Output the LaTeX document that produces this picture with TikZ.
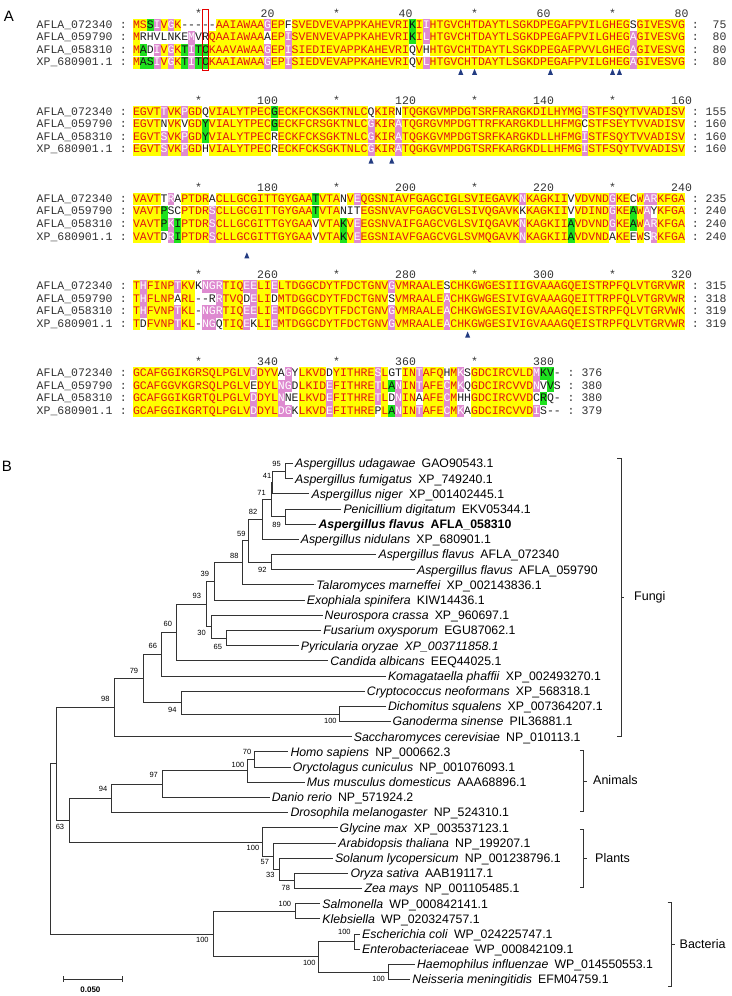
\documentclass[tikz,border=0pt]{standalone}
\usepackage{fontspec}
\setmainfont{Liberation Sans}
\newfontfamily\monof{Liberation Mono}
\definecolor{bgY}{RGB}{255,255,0}
\definecolor{fgY}{RGB}{225,20,20}
\definecolor{bgP}{RGB}{222,138,208}
\definecolor{fgP}{RGB}{255,255,255}
\definecolor{bgG}{RGB}{30,225,30}
\definecolor{fgG}{RGB}{20,20,20}
\definecolor{bgW}{RGB}{255,255,255}
\definecolor{fgW}{RGB}{30,30,30}
\definecolor{triblue}{RGB}{35,60,130}
\definecolor{txtgray}{RGB}{50,50,50}
\newlength\rw \setlength\rw{6.9pt}
\newcommand\rb[2]{{\fboxsep=0pt\colorbox{bg#1}{\makebox[\rw][c]{\rule[-3pt]{0pt}{12.3pt}\textcolor{fg#1}{#2}}}}}
\makeatletter
\def\seqrow#1#2{\hbox{\rp@#1\relax#2\relax}}
\def\rp@#1#2\relax#3#4\relax{\rb{#3}{#1}\ifx\relax#2\relax\expandafter\@gobble\else\expandafter\@firstofone\fi{\rp@#2\relax#4\relax}}
\makeatother
\newcommand\gap{\hspace{0.5em}}
\tikzset{
  nm/.style={inner sep=0pt,outer sep=0pt,text=txtgray,font=\monof\fontsize{11.5}{12}\selectfont},
  sq/.style={inner sep=0pt,outer sep=0pt,font=\monof\fontsize{11.5}{12}\selectfont},
  br/.style={draw=black!80,line width=0.75pt},
  leaf/.style={anchor=base west,inner sep=0pt,outer sep=0pt,font=\fontsize{12.3}{14}\selectfont},
  bs/.style={inner sep=0pt,font=\fontsize{7.5}{8}\selectfont},
  grp/.style={anchor=west,inner sep=0pt,font=\fontsize{12.5}{14}\selectfont},
  brk/.style={draw=black!80,line width=0.75pt},
  panel/.style={inner sep=0pt,font=\fontsize{15}{15}\selectfont},
}
\newcommand\alrow[7]{%
  \node[nm,anchor=base west] (#1n) at (36.7,#2+3.2) {#3};
  \node[nm,anchor=base] (#1c) at (123.3,#2+3.2) {:};
  \node[sq,anchor=base west] (#1s) at (133,#2+3.2) {\seqrow{#4}{#5}};
  \node[nm,anchor=base] (#1d) at ({133+(#6+1.5)*6.9},#2+3.2) {:};
  \node[nm,anchor=base east] (#1e) at ({133+(#6+6)*6.9},#2+3.2) {#7};
}
\newcommand\ruler[4]{%
  \foreach \c in {10,30,...,#4} {\node[nm,anchor=base] (#1s\c) at ({133+(\c-0.5)*6.9},#2+3.8) {*};}
  \foreach \c in {20,40,...,#4} {\pgfmathtruncatemacro\v{#3+\c}\node[nm,anchor=base] (#1n\c) at ({133+(\c-0.5)*6.9},#2+3.8) {\v};}
}
\newcommand\tri[2]{\fill[triblue] ({133+(#1-0.5)*6.9-2.5},#2+2.8) -- ({133+(#1-0.5)*6.9+2.5},#2+2.8) -- ({133+(#1-0.5)*6.9},#2-3.2) -- cycle;}
\newcommand\leaf[4]{\coordinate (#1) at (#2-2.2,#3); \node[leaf] (#1t) at (#2,#3+4.4) {#4};}
\begin{document}
\begin{tikzpicture}[x=1pt,y=-1pt]
\useasboundingbox (0,0) rectangle (731,996);
\node[panel] (labA) at (9,16.5) {A};
\node[panel] (labB) at (7,466) {B};
% ---------- block 1
\ruler{ra}{13.3}{0}{80}
\alrow{a1}{25}{AFLA\_072340}{MSSIVGK--- --AAIAWAAG EPFSVEDVEV APPKAHEVRI KIIHTGVCHT DAYTLSGKDP EGAFPVILGH EGSGIVESVG}{YYGPYPYWWW WWYYYYYYYP YYWYYYYYYY YYYYYYYYYY GYPYYYYYYY YYYYYYYYYY YYYYYYYYYY YYWYYYYYYY}{80}{75}
\alrow{a2}{37.55}{AFLA\_059790}{MRHVLNKEMV RQAAIAWAAA EPISVENVEV APPKAHEVRI KILHTGVCHT DAYTLSGKDP EGAFPVILGH EGAGIVESVG}{YWWWWWWWPW WYYYYYYYYW YYPYYYYYYY YYYYYYYYYY GYPYYYYYYY YYYYYYYYYY YYYYYYYYYY YYPYYYYYYY}{80}{80}
\alrow{a3}{50.1}{AFLA\_058310}{MADIVGKTIT CKAAVAWAAG EPISIEDIEV APPKAHEVRI QVHHTGVCHT DAYTLSGKDP EGAFPVVLGH EGAGIVESVG}{YGWPYPYGPG GYYYYYYYYP YYPYYYYYYY YYYYYYYYYY WYWYYYYYYY YYYYYYYYYY YYYYYYYYYY YYPYYYYYYY}{80}{80}
\alrow{a4}{62.65}{XP\_680901.1}{MASIVGKTIT CKAAIAWAAG EPISIEDVEV APPKAHEVRI QVLHTGVCHT DAYTLSGKDP EGAFPVILGH EGAGIVESVG}{YGGPYPYGPG GYYYYYYYYP YYPYYYYYYY YYYYYYYYYY WYPYYYYYYY YYYYYYYYYY YYYYYYYYYY YYPYYYYYYY}{80}{80}
\node[draw=red!90!black,line width=0.9pt,minimum width=6.9pt,minimum height=61.5pt,inner sep=0pt,outer sep=0pt] (redbox) at (205.45,39.8) {};
\tri{48}{72}\tri{50}{72}\tri{61}{72}\tri{70}{72}\tri{71}{72}
% ---------- block 2
\ruler{rb}{100.4}{80}{80}
\alrow{b1}{112.1}{AFLA\_072340}{EGVTTVKPGD QVIALYTPEC GECKFCKSGK TNLCQKIRNT QGKGVMPDGT SRFRARGKDI LHYMGISTFS QYTVVADISV}{YYYYPYYPYY WYYYYYYYYY GYYYYYYYYY YYYYWYYYWY YYYYYYYYYY YYYYYYYYYY YYYYYPYYYY YYYYYYYYYY}{80}{155}
\alrow{b2}{124.65}{AFLA\_059790}{EGVTNVKVGD YVIALYTPEC GECKFCRSGK TNLCGKIRAT QGRGVMPDGT TRFKARGKDL LHFMGCSTFS EYTVVADISV}{YYYYWYYWYY GYYYYYYYYY GYYYYYYYYY YYYYPYYYPY YYYYYYYYYY YYYYYYYYYY YYYYYWYYYY YYYYYYYYYY}{80}{160}
\alrow{b3}{137.2}{AFLA\_058310}{EGVTSVKPGD YVIALYTPEC RECKFCKSGK TNLCGKIRAT QGKGVMPDGT SRFKARGKDL LHFMGISTFS QYTVVADISV}{YYYYPYYPYY GYYYYYYYYY WYYYYYYYYY YYYYPYYYPY YYYYYYYYYY YYYYYYYYYY YYYYYPYYYY YYYYYYYYYY}{80}{160}
\alrow{b4}{149.75}{XP\_680901.1}{EGVTSVKPGD HVIALYTPEC RECKFCKSGK TNLCGKIRAT QGKGVMPDGT SRFKARGKDL LHFMGISTFS QYTVVADISV}{YYYYPYYPYY WYYYYYYYYY WYYYYYYYYY YYYYPYYYPY YYYYYYYYYY YYYYYYYYYY YYYYYPYYYY YYYYYYYYYY}{80}{160}
\tri{35}{160.7}\tri{38}{160.7}
% ---------- block 3
\ruler{rc}{187.5}{160}{80}
\alrow{c1}{199.2}{AFLA\_072340}{VAVTTRAPTD RACLLGCGIT TGYGAATVTA NVEQGSNIAV FGAGCIGLSV IEGAVKNKAG KIIVVDVNDG KECWARKFGA}{YYYYWPWYYY YWYYYYYYYY YYYYYYGYYY WYPYYYYYYY YYYYYYYYYY YYYYYYPYYY YYYWYYYYYP YYWYPPYYYY}{80}{235}
\alrow{c2}{211.75}{AFLA\_059790}{VAVTPSCPTD RSCLLGCGIT TGYGAATVTA NITEGSNVAV FGAGCVGLSI VQGAVKKKAG KIIVVDINDG KEAWAYKFGA}{YYYYGWWYYY YPYYYYYYYY YYYYYYGYYY WWWYYYYYYY YYYYYYYYYY YYYYYYWYYY YYYWYYYYYP YYGYPWYYYY}{80}{240}
\alrow{c3}{224.3}{AFLA\_058310}{VAVTPKIPTD RSCLLGCGIT TGYGAAVVTA KVEEGSNVAI FGAGCVGLSV IQGAVKNKAG KIIAVDVNDG KEAWARKFGA}{YYYYGPGYYY YPYYYYYYYY YYYYYYWYYY GYPYYYYYYY YYYYYYYYYY YYYYYYPYYY YYYGYYYYYP YYGYPPYYYY}{80}{240}
\alrow{c4}{236.85}{XP\_680901.1}{VAVTDRIPTD RSCLLGCGIT TGYGAAVVTA KVEEGSNIAV FGAGCVGLSV MQGAVKNKAG KIIAVDVNDA KEEWSRKFGA}{YYYYWPGYYY YPYYYYYYYY YYYYYYWYYY GYPYYYYYYY YYYYYYYYYY YYYYYYPYYY YYYGYYYYYW YYWYWPYYYY}{80}{240}
\tri{17}{255.5}
% ---------- block 4
\ruler{rd}{274.6}{240}{80}
\alrow{d1}{286.3}{AFLA\_072340}{THFINPTKVK NGRTIQEELI ELTDGGCDYT FDCTGNVGVM RAALESCHKG WGESIIIGVA AAGQEISTRP FQLVTGRVWR}{YPYYYYPYYW PPPYYYPPYY PYYYYYYYYY YYYYYYYPYY YYYYYWYYYY YYYYYYYYYY YYYYYYYYYY YYYYYYYYYY}{80}{315}
\alrow{d2}{298.85}{AFLA\_059790}{THFLNPARL- -RRTVQDELI DMTDGGCDYT FDCTGNVSVM RAALEACHKG WGESIVIGVA AAGQEITTRP FQLVTGRVWR}{YPYYYYWYYW WWPYYYWPYY WYYYYYYYYY YYYYYYYWYY YYYYYPYYYY YYYYYYYYYY YYYYYYYYYY YYYYYYYYYY}{80}{318}
\alrow{d3}{311.4}{AFLA\_058310}{THFVNPTKL- NGRTIQEELI EMTDGGCDYT FDCTGNVGVM RAALEACHKG WGESIVIGVA AAGQEISTRP FQLVTGRVWK}{YPYYYYPYYW PPPYYYPPYY PYYYYYYYYY YYYYYYYPYY YYYYYPYYYY YYYYYYYYYY YYYYYYYYYY YYYYYYYYYY}{80}{319}
\alrow{d4}{323.95}{XP\_680901.1}{TDFVNPTKL- NGQTIQEKLI EMTDGGCDYT FDCTGNVGVM RAALEACHKG WGESIVIGVA AAGQEISTRP FQLVTGRVWR}{YWYYYYPYYW PPWYYYPWYY PYYYYYYYYY YYYYYYYPYY YYYYYPYYYY YYYYYYYYYY YYYYYYYYYY YYYYYYYYYY}{80}{319}
\tri{49}{334.7}
% ---------- block 5
\ruler{re}{361.7}{320}{62}
\alrow{e1}{373.4}{AFLA\_072340}{GCAFGGIKGR SQLPGLVDDY VAGYLKVDDY ITHRESLGTI NTAFQHMKSG DCIRCVLDMK V-}{YYYYYYYYYY YYYYYYYPYY YWPWYYYYWY YYYYYPYWWY YPYYYWYPWY YYYYYYYYPG GW}{62}{376}
\alrow{e2}{385.95}{AFLA\_059790}{GCAFGGVKGR SQLPGLVEDY LNGDLKIDEF ITHRETLANI NTAFECMKQG DCIRCVVDNV VS}{YYYYYYYYYY YYYYYYYWYY YPPWYYYYPY YYYYYPYGPY YPYYYPYPWY YYYYYYYYPW GW}{62}{380}
\alrow{e3}{398.5}{AFLA\_058310}{GCAFGGIKGR TQLPGLVDDY LNNELKVDEF ITHRETLDNI NAAFECMHHG DCIRCVVDCR Q-}{YYYYYYYYYY YYYYYYYPYY YPWWYYYYPY YYYYYPYWPY YWYYYPYWWY YYYYYYYYWG WW}{62}{380}
\alrow{e4}{411.05}{XP\_680901.1}{GCAFGGIKGR TQLPGLVDDY LDGKLKVDEF ITHREPLANI NTAFECMKAG DCIRCVVDIS --}{YYYYYYYYYY YYYYYYYPYY YPPWYYYYPY YYYYYWYGPY YPYYYPYPWY YYYYYYYYPW WW}{62}{379}
% ---------- tree leaves
\leaf{l1}{295.2}{463.4}{\textit{Aspergillus udagawae}\gap GAO90543.1}
\leaf{l2}{295.2}{478.6}{\textit{Aspergillus fumigatus}\gap XP\_749240.1}
\leaf{l3}{311.6}{493.8}{\textit{Aspergillus niger}\gap XP\_001402445.1}
\leaf{l4}{343.5}{509.0}{\textit{Penicillium digitatum}\gap EKV05344.1}
\leaf{l5}{318.6}{524.1}{\bfseries\textit{Aspergillus flavus}\gap AFLA\_058310}
\leaf{l6}{300.8}{539.3}{\textit{Aspergillus nidulans}\gap XP\_680901.1}
\leaf{l7}{378.6}{554.5}{\textit{Aspergillus flavus}\gap AFLA\_072340}
\leaf{l8}{417.1}{569.7}{\textit{Aspergillus flavus}\gap AFLA\_059790}
\leaf{l9}{316.3}{584.8}{\textit{Talaromyces marneffei}\gap XP\_002143836.1}
\leaf{l10}{306.9}{600.0}{\textit{Exophiala spinifera}\gap KIW14436.1}
\leaf{l11}{324.7}{615.2}{\textit{Neurospora crassa}\gap XP\_960697.1}
\leaf{l12}{323.3}{630.4}{\textit{Fusarium oxysporum}\gap EGU87062.1}
\leaf{l13}{300.8}{645.6}{\textit{Pyricularia oryzae}\gap\textit{XP\_003711858.1}}
\leaf{l14}{330.4}{660.7}{\textit{Candida albicans}\gap EEQ44025.1}
\leaf{l15}{388.0}{675.9}{\textit{Komagataella phaffii}\gap XP\_002493270.1}
\leaf{l16}{366.9}{691.1}{\textit{Cryptococcus neoformans}\gap XP\_568318.1}
\leaf{l17}{388.0}{706.3}{\textit{Dichomitus squalens}\gap XP\_007364207.1}
\leaf{l18}{392.7}{721.5}{\textit{Ganoderma sinense}\gap PIL36881.1}
\leaf{l19}{353.8}{736.6}{\textit{Saccharomyces cerevisiae}\gap NP\_010113.1}
\leaf{l20}{290.5}{751.8}{\textit{Homo sapiens}\gap NP\_000662.3}
\leaf{l21}{292.9}{767.0}{\textit{Oryctolagus cuniculus}\gap NP\_001076093.1}
\leaf{l22}{306.9}{782.2}{\textit{Mus musculus domesticus}\gap AAA68896.1}
\leaf{l23}{271.8}{797.3}{\textit{Danio rerio}\gap NP\_571924.2}
\leaf{l24}{290.5}{812.5}{\textit{Drosophila melanogaster}\gap NP\_524310.1}
\leaf{l25}{339.7}{827.7}{\textit{Glycine max}\gap XP\_003537123.1}
\leaf{l26}{338.3}{842.9}{\textit{Arabidopsis thaliana}\gap NP\_199207.1}
\leaf{l27}{335.0}{858.1}{\textit{Solanum lycopersicum}\gap NP\_001238796.1}
\leaf{l28}{350.5}{873.2}{\textit{Oryza sativa}\gap AAB19117.1}
\leaf{l29}{364.6}{888.4}{\textit{Zea mays}\gap NP\_001105485.1}
\leaf{l30}{322.4}{903.6}{\textit{Salmonella}\gap WP\_000842141.1}
\leaf{l31}{322.4}{918.8}{\textit{Klebsiella}\gap WP\_020324757.1}
\leaf{l32}{362.2}{934.0}{\textit{Escherichia coli}\gap WP\_024225747.1}
\leaf{l33}{362.2}{949.1}{\textit{Enterobacteriaceae}\gap WP\_000842109.1}
\leaf{l34}{417.1}{964.3}{\textit{Haemophilus influenzae}\gap WP\_014550553.1}
\leaf{l35}{412.4}{979.5}{\textit{Neisseria meningitidis}\gap EFM04759.1}
% ---------- internal nodes
\coordinate (nA) at (285.8,471.0);
\coordinate (nB) at (272.7,482.4);
\coordinate (nC) at (285.8,516.6);
\coordinate (nD) at (270.9,499.5);
\coordinate (nE) at (262.4,519.4);
\coordinate (nG) at (271.8,562.1);
\coordinate (nF) at (248.4,540.8);
\coordinate (nH) at (242.7,562.8);
\coordinate (nI) at (214.6,581.4);
\coordinate (nK) at (226.3,638.0);
\coordinate (nJ) at (210.9,626.6);
\coordinate (nL) at (206.2,604.0);
\coordinate (nM) at (176.2,632.4);
\coordinate (nN) at (161.7,654.1);
\coordinate (nP) at (339.7,713.9);
\coordinate (nQ) at (181.8,702.5);
\coordinate (nR) at (142.9,678.3);
\coordinate (nS) at (114.8,707.5);
\coordinate (an1) at (254.4,759.4);
\coordinate (an2) at (247.4,770.8);
\coordinate (an3) at (162.6,784.1);
\coordinate (an4) at (111.5,798.3);
\coordinate (pl4) at (294.3,880.8);
\coordinate (pl3) at (279.3,869.5);
\coordinate (pl2) at (273.2,856.2);
\coordinate (pl1) at (262.4,842.0);
\coordinate (nV) at (68.9,820.2);
\coordinate (nT) at (56.2,763.8);
\coordinate (ba1) at (295.2,911.2);
\coordinate (ba2) at (354.7,941.6);
\coordinate (ba3) at (388.0,971.9);
\coordinate (ba4) at (318.6,956.8);
\coordinate (nW) at (213.2,934.0);
\coordinate (root) at (50.1,848.9);
% ---------- branches
\foreach \p/\c in {nA/l1,nA/l2,nB/nA,nB/l3,nC/l4,nC/l5,nD/nB,nD/nC,nE/nD,nE/l6,nG/l7,nG/l8,nF/nE,nF/nG,nH/nF,nH/l9,nI/nH,nI/l10,nK/l12,nK/l13,nJ/l11,nJ/nK,nL/nI,nL/nJ,nM/nL,nM/l14,nN/nM,nN/l15,nP/l17,nP/l18,nQ/l16,nQ/nP,nR/nN,nR/nQ,nS/nR,nS/l19,an1/l20,an1/l21,an2/an1,an2/l22,an3/an2,an3/l23,an4/an3,an4/l24,pl4/l28,pl4/l29,pl3/l27,pl3/pl4,pl2/l26,pl2/pl3,pl1/l25,pl1/pl2,nV/an4,nV/pl1,nT/nS,nT/nV,ba1/l30,ba1/l31,ba2/l32,ba2/l33,ba3/l34,ba3/l35,ba4/ba2,ba4/ba3,nW/ba1,nW/ba4,root/nT,root/nW}
  {\draw[br] (\p) |- (\c);}
% ---------- bootstrap values
\foreach \v/\x/\y [count=\i] in {95/276.5/464.3,41/267.1/475.7,71/261.5/492.7,82/253.0/512.3,89/276.5/525.0,59/241.3/534.3,88/234.3/555.7,92/262.4/570.0,39/204.8/574.3,93/196.8/596.0,30/201.5/633.3,65/217.9/646.7,60/167.8/624.0,66/152.8/645.7,79/134.0/670.7,98/105.4/699.0,94/172.4/710.0,100/330.4/720.7,70/247.0/752.3,100/238.0/765.0,97/153.7/775.0,94/103.1/789.3,63/60.0/827.3,100/253.0/847.7,57/264.8/861.7,33/270.4/875.3,78/285.8/888.3,100/284.9/904.3,100/344.4/932.3,100/309.3/963.3,100/378.6/979.0,100/202.4/940.0}
  {\node[bs] (bs\i) at (\x,\y) {\v};}
% ---------- group brackets
\draw[brk] (617.4,458.3) -- (620.9,458.3) -- (620.9,736.7) -- (617.4,736.7);
\draw[brk] (620.9,597.5) -- (624.4,597.5);
\node[grp] (gF) at (634,597.5) {Fungi};
\draw[brk] (579.9,750.0) -- (583.4,750.0) -- (583.4,811.7) -- (579.9,811.7);
\draw[brk] (583.4,780.9) -- (586.9,780.9);
\node[grp] (gA) at (593,780.0) {Animals};
\draw[brk] (579.9,829.3) -- (583.4,829.3) -- (583.4,887.7) -- (579.9,887.7);
\draw[brk] (583.4,858.5) -- (586.9,858.5);
\node[grp] (gP) at (595,858.0) {Plants};
\draw[brk] (667.5,902.7) -- (671.0,902.7) -- (671.0,986.0) -- (667.5,986.0);
\draw[brk] (671.0,944.3) -- (674.5,944.3);
\node[grp] (gB) at (679.5,944.3) {Bacteria};
% ---------- scale bar
\coordinate (sb1) at (63.3,979.3);
\coordinate (sb2) at (122.8,979.3);
\draw[br] (sb1) -- (sb2);
\draw[br] ([yshift=3pt]sb1) -- ([yshift=-3pt]sb1);
\draw[br] ([yshift=3pt]sb2) -- ([yshift=-3pt]sb2);
\node[inner sep=0pt,font=\bfseries\fontsize{8}{9}\selectfont] (sbl) at (90.4,990) {0.050};
\end{tikzpicture}
\end{document}
